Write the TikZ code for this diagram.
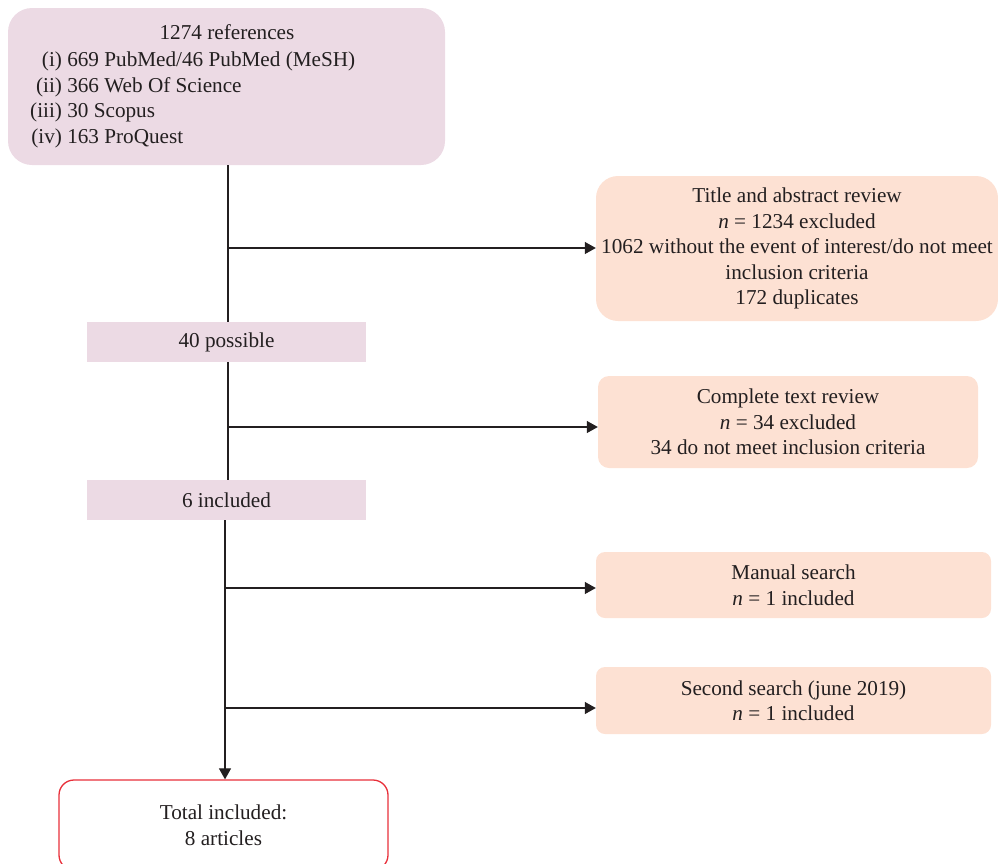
\documentclass[tikz,border=0pt]{standalone}
\usepackage{fontspec}
\setmainfont{Liberation Serif}
\usetikzlibrary{arrows.meta, positioning}
\definecolor{dbpink}{HTML}{ECDAE4}
\definecolor{exclpeach}{HTML}{FDE1D3}
\definecolor{totalred}{HTML}{E8303A}
\definecolor{inktext}{HTML}{231F20}

\begin{document}
\begin{tikzpicture}[x=1pt, y=-1pt, >={Triangle[length=11pt,width=12pt]},
    every node/.style={font=\fontsize{21.2}{25.5}\selectfont, text=inktext},
    stagebox/.style={fill=dbpink, minimum width=279pt, minimum height=40pt, inner sep=0pt},
    exclbox/.style={fill=exclpeach, rounded corners=#1, align=center, inner sep=0pt},
    flow/.style={draw=inktext, line width=1.2pt}]

    \useasboundingbox (0,0) rectangle (998,863);

    % Nodes
    \node[fill=dbpink, rounded corners=24pt, minimum width=437pt, minimum height=157pt] (refs) at (226.5, 86.5) {};
    \node (refstitle) at (227, 32) {1274 references};
    \node[anchor=west, inner sep=0pt] (dblist) at (30, 100) {\begin{tabular}{@{}r@{ }l@{}}
        (i) & 669 PubMed/46 PubMed (MeSH)\\
        (ii) & 366 Web Of Science\\
        (iii) & 30 Scopus\\
        (iv) & 163 ProQuest
    \end{tabular}};

    \node[stagebox] (possible) at (226.5, 342) {40 possible};
    \node[stagebox] (included) at (226.5, 500) {6 included};

    \node[exclbox=22pt, minimum width=402pt, minimum height=145pt] (tareview) at (797, 248.5)
        {Title and abstract review\\\textit{n} = 1234 excluded\\1062 without the event of interest/do not meet\\inclusion criteria\\172 duplicates};
    \node[exclbox=11pt, minimum width=380pt, minimum height=92pt] (ftreview) at (788, 422)
        {Complete text review\\\textit{n} = 34 excluded\\34 do not meet inclusion criteria};
    \node[exclbox=9pt, minimum width=395pt, minimum height=66pt] (manual) at (793.5, 585)
        {Manual search\\\textit{n} = 1 included};
    \node[exclbox=9pt, minimum width=395pt, minimum height=67pt] (second) at (793.5, 700.5)
        {Second search (june 2019)\\\textit{n} = 1 included};

    \node[draw=totalred, line width=1.3pt, rounded corners=15pt, align=center, minimum width=329pt, minimum height=90pt] (total) at (223.5, 825)
        {Total included:\\8 articles};

    % Branch points
    \coordinate (b1) at (228, 248);
    \coordinate (b2) at (228, 427);
    \coordinate (b3) at (225, 588);
    \coordinate (b4) at (225, 708);

    % Arrows
    \draw[flow] (refs.south -| b1) -- (possible.north -| b1);
    \draw[flow] (possible.south -| b1) -- (included.north -| b1);
    \draw[flow, ->] (included.south -| b3) -- (total.north -| b3);
    \draw[flow, ->] (b1) -- (tareview.west |- b1);
    \draw[flow, ->] (b2) -- (ftreview.west |- b2);
    \draw[flow, ->] (b3) -- (manual.west |- b3);
    \draw[flow, ->] (b4) -- (second.west |- b4);

\end{tikzpicture}
\end{document}
